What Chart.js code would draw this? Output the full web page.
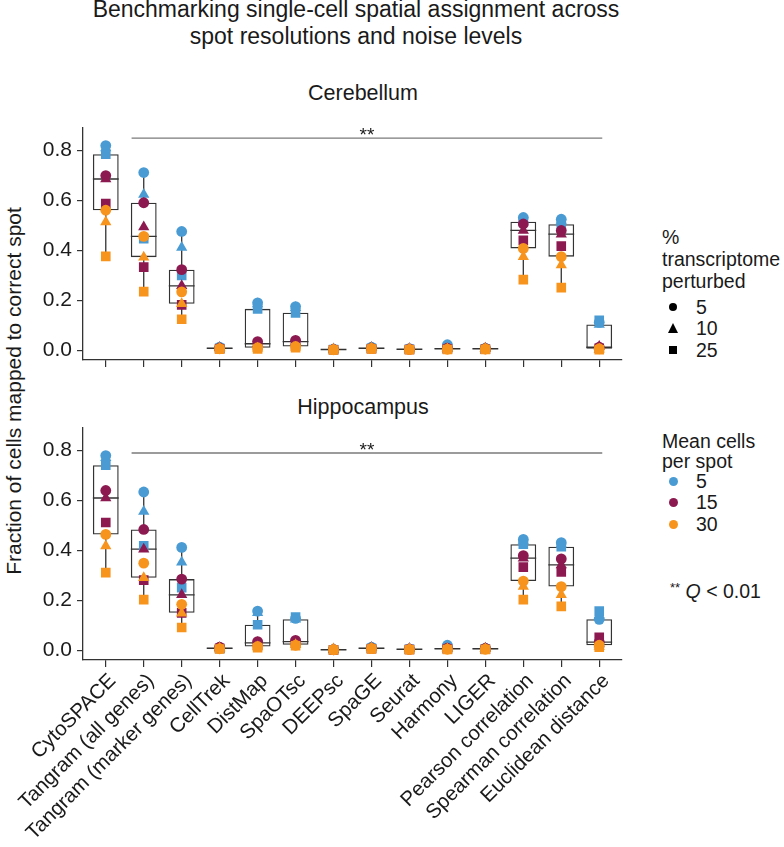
<!DOCTYPE html>
<html>
<head>
<meta charset="utf-8">
<script src="https://cdn.jsdelivr.net/npm/chart.js@4.4.1/dist/chart.umd.min.js"></script>
<style>
  body { margin: 0; background: #fff; font-family: "Liberation Sans", Arial, sans-serif; color: #1a1a1a; }
  #wrap { position: relative; width: 784px; height: 847px; overflow: hidden; }
  canvas { position: absolute; left: 0; }
  .txt { position: absolute; white-space: nowrap; }
  .title { left: 0; width: 712px; top: -4px; text-align: center; font-size: 23px; line-height: 27px; }
  .ptitle { left: 263px; width: 200px; text-align: center; font-size: 21.5px; line-height: 22px; }
  .ytitle { left: -196px; top: 379px; width: 420px; height: 24px; line-height: 24px; text-align: center;
            font-size: 21px; transform: rotate(-90deg); }
  .leg { font-size: 19.5px; line-height: 18px; left: 662px; }
  .lab { font-size: 19.5px; line-height: 20px; left: 696px; }
  .ico { position: absolute; }
</style>
</head>
<body>
<div id="wrap">
  <div class="txt title">Benchmarking single-cell spatial assignment across<br>spot resolutions and noise levels</div>
  <div class="txt ptitle" style="top:82px">Cerebellum</div>
  <div class="txt ptitle" style="top:396px">Hippocampus</div>
  <div class="txt ytitle">Fraction of cells mapped to correct spot</div>
  <canvas id="cereb" width="640" height="270" style="top:110px"></canvas>
  <canvas id="hippo" width="640" height="437" style="top:410px"></canvas>
  <div id="legend"></div>
</div>
<script>
// categories on the x axis
const categories = ['CytoSPACE', 'Tangram (all genes)', 'Tangram (marker genes)', 'CellTrek', 'DistMap',
  'SpaOTsc', 'DEEPsc', 'SpaGE', 'Seurat', 'Harmony', 'LIGER', 'Pearson correlation',
  'Spearman correlation', 'Euclidean distance'];
const perturbed = ['5', '10', '25'];      // % transcriptome perturbed -> shape
const cellsPerSpot = ['5', '15', '30'];   // mean cells per spot -> colour
const yTicks = [0, 0.2, 0.4, 0.6, 0.8];

// Cerebellum (cN = mean cells per spot, pN = % perturbed)
const cereb_c5_p5   = [0.82, 0.712, 0.476, 0.012, 0.19, 0.175, 0.004, 0.012, 0.006, 0.022, 0.008, 0.532, 0.525, 0.112];
const cereb_c5_p10  = [0.81, 0.624, 0.412, 0.010, 0.185, 0.17, 0.005, 0.010, 0.005, 0.012, 0.007, 0.525, 0.52, 0.103];
const cereb_c5_p25  = [0.785, 0.447, 0.30, 0.008, 0.166, 0.15, 0.003, 0.008, 0.004, 0.008, 0.005, 0.515, 0.505, 0.12];
const cereb_c15_p5  = [0.70, 0.591, 0.323, 0.008, 0.035, 0.04, 0.003, 0.008, 0.004, 0.008, 0.006, 0.506, 0.48, 0.012];
const cereb_c15_p10 = [0.686, 0.494, 0.258, 0.010, 0.026, 0.035, 0.004, 0.010, 0.006, 0.006, 0.008, 0.48, 0.465, 0.015];
const cereb_c15_p25 = [0.588, 0.333, 0.182, 0.006, 0.02, 0.025, 0.002, 0.006, 0.003, 0.005, 0.004, 0.44, 0.417, 0.008];
const cereb_c30_p5  = [0.561, 0.456, 0.234, 0.006, 0.010, 0.015, 0.002, 0.007, 0.003, 0.004, 0.005, 0.408, 0.375, 0.006];
const cereb_c30_p10 = [0.514, 0.373, 0.186, 0.008, 0.008, 0.012, 0.004, 0.009, 0.005, 0.006, 0.007, 0.375, 0.342, 0.004];
const cereb_c30_p25 = [0.376, 0.235, 0.124, 0.004, 0.005, 0.010, 0.001, 0.005, 0.002, 0.003, 0.003, 0.283, 0.251, 0.002];

// Hippocampus
const hippo_c5_p5   = [0.78, 0.634, 0.412, 0.010, 0.157, 0.128, 0.003, 0.012, 0.005, 0.02, 0.008, 0.444, 0.431, 0.124];
const hippo_c5_p10  = [0.771, 0.556, 0.353, 0.008, 0.15, 0.124, 0.004, 0.010, 0.006, 0.012, 0.006, 0.44, 0.425, 0.14];
const hippo_c5_p25  = [0.741, 0.418, 0.251, 0.006, 0.102, 0.133, 0.002, 0.008, 0.004, 0.008, 0.005, 0.425, 0.415, 0.157];
const hippo_c15_p5  = [0.64, 0.484, 0.285, 0.012, 0.035, 0.04, 0.002, 0.008, 0.004, 0.008, 0.007, 0.379, 0.366, 0.033];
const hippo_c15_p10 = [0.61, 0.405, 0.222, 0.010, 0.03, 0.035, 0.004, 0.010, 0.006, 0.006, 0.008, 0.369, 0.342, 0.025];
const hippo_c15_p25 = [0.512, 0.281, 0.15, 0.008, 0.022, 0.028, 0.001, 0.006, 0.003, 0.005, 0.004, 0.333, 0.314, 0.052];
const hippo_c30_p5  = [0.464, 0.349, 0.184, 0.006, 0.015, 0.02, 0.002, 0.007, 0.003, 0.004, 0.004, 0.277, 0.255, 0.02];
const hippo_c30_p10 = [0.418, 0.29, 0.148, 0.008, 0.013, 0.022, 0.005, 0.009, 0.005, 0.006, 0.006, 0.255, 0.222, 0.015];
const hippo_c30_p25 = [0.311, 0.203, 0.091, 0.005, 0.010, 0.018, 0.001, 0.005, 0.002, 0.003, 0.003, 0.203, 0.176, 0.012];

// significance bracket (x span in category units, y level per panel)
const sigSpan = [0.68, 13.08];
const sigLevel = { cereb: 0.85, hippo: 0.79 };

const colors = ['#4a9bd3', '#8c1a50', '#f7941e'];
const shapes = ['circle', 'triangle', 'rect'];
const radius = { circle: 5.4, triangle: 6.5, rect: 6.8 };

Chart.defaults.font.family = '"Liberation Sans", Arial, sans-serif';
Chart.defaults.color = '#1a1a1a';

function quantile(sorted, p) {
  const h = (sorted.length - 1) * p, lo = Math.floor(h);
  return sorted[lo] + (h - lo) * ((sorted[lo + 1] ?? sorted[lo]) - sorted[lo]);
}

function boxStats(series) {
  return categories.map((_, i) => {
    const v = series.flat().map(s => s[i]).sort((a, b) => a - b);
    const q1 = quantile(v, 0.25), med = quantile(v, 0.5), q3 = quantile(v, 0.75);
    const iqr = q3 - q1;
    const lo = Math.min(...v.filter(x => x >= q1 - 1.5 * iqr));
    const hi = Math.max(...v.filter(x => x <= q3 + 1.5 * iqr));
    return { q1, med, q3, lo, hi };
  });
}

function makeChart(id, series, sigY, showLabels, xHeight) {
  const stats = boxStats(series);
  const datasets = [{
    type: 'bar',
    data: stats.map((s, i) => ({ x: i, y: [s.q1, s.q3] })),
    backgroundColor: 'rgba(255,255,255,0)',
    borderColor: '#333',
    borderWidth: 1.3,
    borderSkipped: false,
    barPercentage: 0.68,
    categoryPercentage: 1,
    order: 100
  }];
  series.forEach((row, c) => {
    row.forEach((vals, p) => {
      datasets.push({
        type: 'line',
        showLine: false,
        data: vals.map((v, i) => ({ x: i, y: v })),
        pointStyle: shapes[p],
        pointRadius: radius[shapes[p]],
        pointBackgroundColor: colors[c],
        pointBorderColor: colors[c],
        pointBorderWidth: 0,
        order: (3 - c) * 10 + (3 - p)
      });
    });
  });

  const extras = {
    id: 'boxExtras',
    beforeDatasetsDraw(chart) {
      const { ctx, scales: { x, y } } = chart;
      const bars = chart.getDatasetMeta(0).data;
      ctx.save();
      ctx.strokeStyle = '#333';
      ctx.lineWidth = 1.3;
      stats.forEach((s, i) => {
        const b = bars[i];
        const cx = x.getPixelForValue(i);
        ctx.beginPath();
        ctx.moveTo(cx, y.getPixelForValue(s.q3));
        ctx.lineTo(cx, y.getPixelForValue(s.hi));
        ctx.moveTo(cx, y.getPixelForValue(s.q1));
        ctx.lineTo(cx, y.getPixelForValue(s.lo));
        const my = y.getPixelForValue(s.med);
        ctx.moveTo(b.x - b.width / 2, my);
        ctx.lineTo(b.x + b.width / 2, my);
        ctx.stroke();
      });
      // significance bracket
      const sy = y.getPixelForValue(sigY);
      ctx.strokeStyle = '#7a7a7a';
      ctx.lineWidth = 1.4;
      ctx.beginPath();
      ctx.moveTo(x.getPixelForValue(sigSpan[0]), sy);
      ctx.lineTo(x.getPixelForValue(sigSpan[1]), sy);
      ctx.stroke();
      ctx.fillStyle = '#1a1a1a';
      ctx.font = '19px "Liberation Sans", Arial, sans-serif';
      ctx.textAlign = 'center';
      ctx.textBaseline = 'alphabetic';
      ctx.fillText('**', x.getPixelForValue((sigSpan[0] + sigSpan[1]) / 2), sy + 3);
      ctx.restore();
    }
  };

  return new Chart(document.getElementById(id), {
    type: 'bar',
    data: { datasets },
    plugins: [extras],
    options: {
      responsive: false,
      animation: false,
      events: [],
      layout: { padding: { top: 12, right: 18, left: 0, bottom: 0 } },
      plugins: { legend: { display: false }, tooltip: { enabled: false } },
      scales: {
        x: {
          type: 'linear',
          min: -0.6,
          max: 13.6,
          offset: false,
          afterBuildTicks: s => { s.ticks = categories.map((_, i) => ({ value: i })); },
          afterFit: s => { s.height = xHeight; },
          grid: { offset: false, drawOnChartArea: false, drawTicks: true, tickLength: 7, color: '#333', lineWidth: 1.2 },
          border: { display: true, color: '#333', width: 1.3 },
          ticks: {
            display: showLabels,
            autoSkip: false,
            minRotation: 45,
            maxRotation: 45,
            padding: 2,
            labelOffset: 7,
            font: { size: 20.5 },
            color: '#1a1a1a',
            callback: v => categories[v]
          }
        },
        y: {
          min: -0.039,
          max: 0.892,
          afterBuildTicks: s => { s.ticks = yTicks.map(v => ({ value: v })); },
          afterFit: s => { s.width = 83; },
          grid: { drawOnChartArea: false, drawTicks: true, tickLength: 6, color: '#333', lineWidth: 1.2 },
          border: { display: true, color: '#333', width: 1.3 },
          ticks: { padding: 5, font: { size: 21 }, color: '#1a1a1a', callback: v => v.toFixed(1) }
        }
      }
    }
  });
}

makeChart('cereb', [
  [cereb_c5_p5, cereb_c5_p10, cereb_c5_p25],
  [cereb_c15_p5, cereb_c15_p10, cereb_c15_p25],
  [cereb_c30_p5, cereb_c30_p10, cereb_c30_p25]
], sigLevel.cereb, false, 20);

makeChart('hippo', [
  [hippo_c5_p5, hippo_c5_p10, hippo_c5_p25],
  [hippo_c15_p5, hippo_c15_p10, hippo_c15_p25],
  [hippo_c30_p5, hippo_c30_p10, hippo_c30_p25]
], sigLevel.hippo, true, 187);

// legend (HTML)
const leg = document.getElementById('legend');
function add(html, cls, style) {
  const d = document.createElement('div');
  d.className = 'txt ' + cls;
  d.setAttribute('style', style);
  d.innerHTML = html;
  leg.appendChild(d);
}
function icon(shape, color, cx, cy, size) {
  const d = document.createElement('div');
  d.className = 'ico';
  if (shape === 'triangle') {
    d.style.cssText = `left:${cx - size / 2}px;top:${cy - size / 2}px;width:0;height:0;` +
      `border-left:${size / 2}px solid transparent;border-right:${size / 2}px solid transparent;` +
      `border-bottom:${size}px solid ${color};`;
  } else {
    d.style.cssText = `left:${cx - size / 2}px;top:${cy - size / 2}px;width:${size}px;height:${size}px;` +
      `background:${color};border-radius:${shape === 'circle' ? '50%' : '0'};`;
  }
  leg.appendChild(d);
}
add('%<br>transcriptome<br>perturbed', 'leg', 'top:226px;line-height:22px');
const shapeRows = [307, 328, 350];
perturbed.forEach((p, i) => {
  icon(shapes[i], '#000', 673, shapeRows[i], shapes[i] === 'triangle' ? 10 : 8);
  add(p, 'lab', `top:${shapeRows[i] - 9.7}px`);
});
add('Mean cells<br>per spot', 'leg', 'top:431px;line-height:20px');
const colorRows = [481, 502, 524];
cellsPerSpot.forEach((c, i) => {
  icon('circle', colors[i], 673, colorRows[i], 9);
  add(c, 'lab', `top:${colorRows[i] - 9.7}px`);
});
add('<span style="font-size:13px;position:relative;top:-6px">**</span> <i>Q</i> &lt; 0.01', 'leg',
  'top:581px;left:670px;line-height:20px');
</script>
</body>
</html>
